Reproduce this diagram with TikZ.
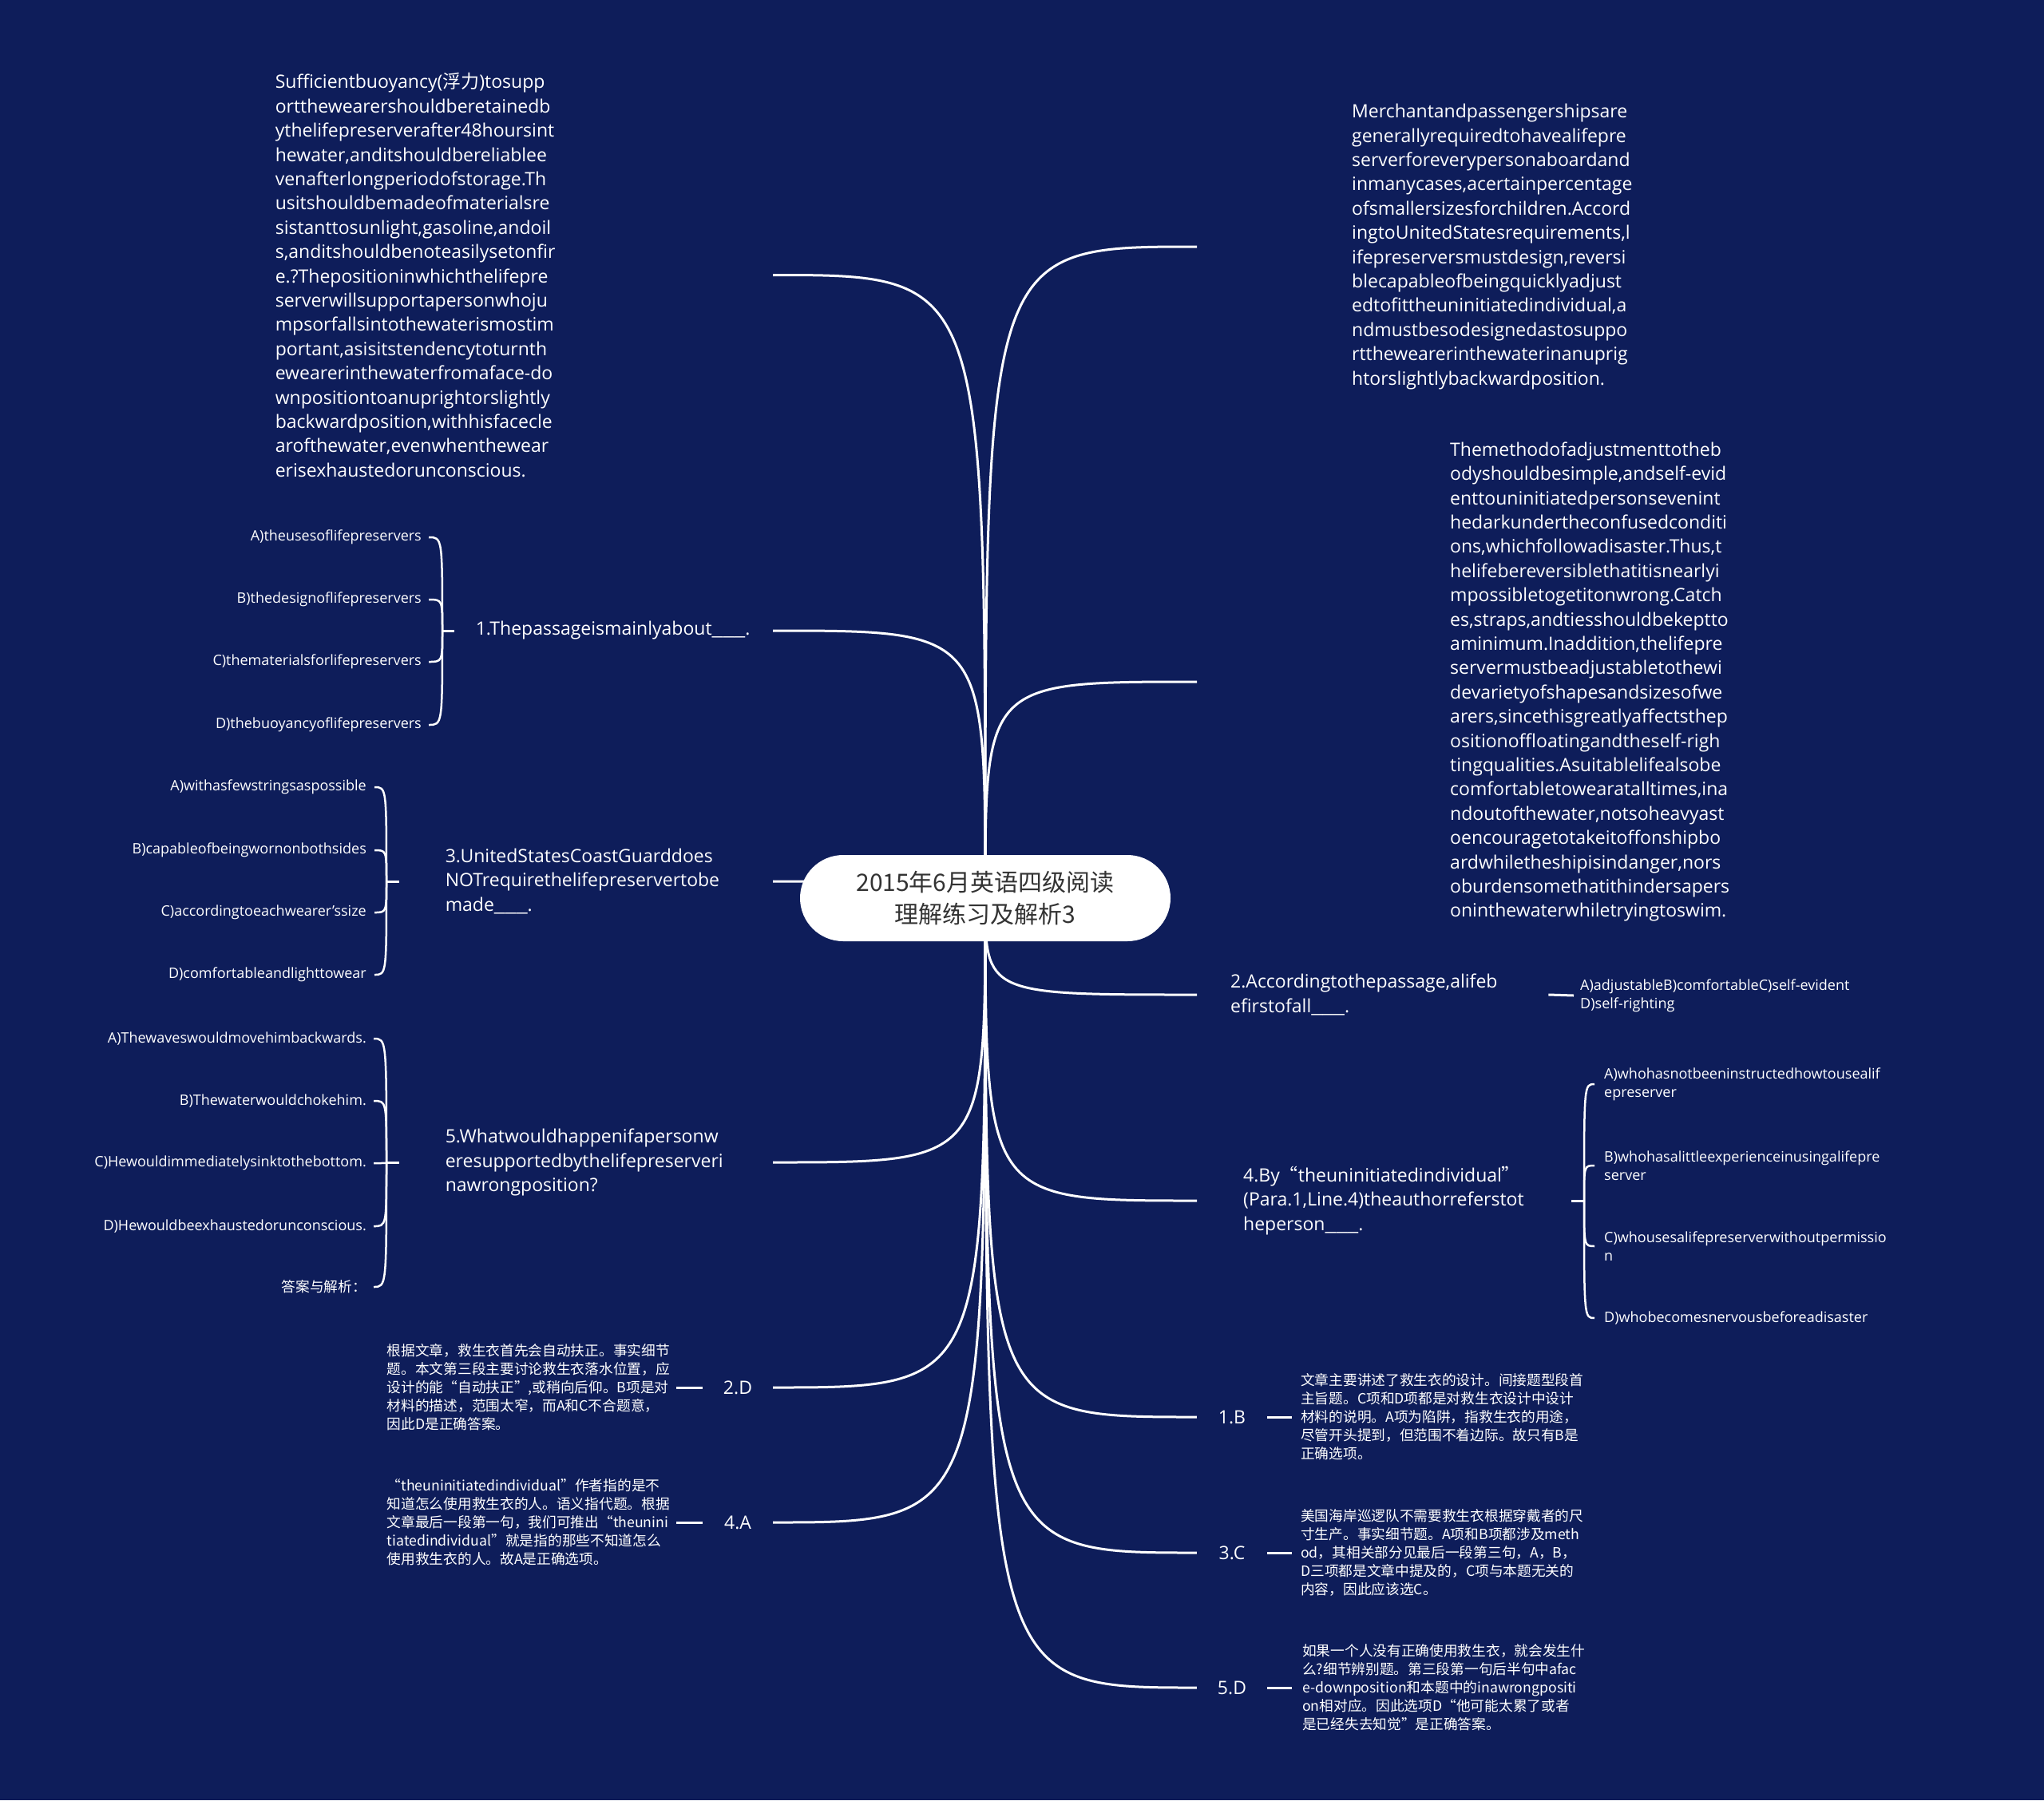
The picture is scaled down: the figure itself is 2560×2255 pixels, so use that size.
\documentclass[tikz,border=0pt]{standalone}
\usepackage{fontspec}
\usepackage{graphicx}
\setmainfont{Open Sans}
\newfontfamily\cjk{Noto Sans CJK SC}
\usetikzlibrary{calc}
\pgfdeclarelayer{bg}
\pgfsetlayers{bg,main}
\definecolor{bgc}{HTML}{0E1D5A}
\definecolor{ttl}{HTML}{333333}
\newcommand\bigf{\fontsize{23}{30.4}\selectfont}
\newcommand\smf{\fontsize{18}{23}\selectfont}
\newcommand\cnf{\cjk\fontsize{17.7}{23}\selectfont}
\newcommand\blank{\scalebox{1.35}[1]{\_\_\_}}
\hyphenpenalty=10000
\exhyphenpenalty=10000
\tikzset{
  conn/.style={draw=white, line width=3pt},
  bracel/.style={draw=white, line width=2.5pt},
  para/.style={text=white, font=\bigf, align=left, inner ysep=0pt},
  opt/.style={text=white, font=\smf, align=left, inner ysep=0pt, inner xsep=9pt},
  cn/.style={text=white, font=\cnf, align=left, inner ysep=0pt},
  lab/.style={text=white, font=\bigf, minimum width=88pt, inner sep=0pt},
  titlebox/.style={fill=white, rounded corners=54pt, minimum width=464pt, minimum height=108pt,
     text=ttl, font=\cjk\fontsize{30}{40}\selectfont, align=center, inner sep=0pt}
}
\begin{document}
\begin{tikzpicture}[x=1pt, y=-1pt]
\useasboundingbox (0,0) rectangle (2560,2255);
\begin{pgfonlayer}{bg}
\fill[bgc] (0,0) rectangle (2560,2255);
\end{pgfonlayer}

% central node
\node[titlebox] (c) at (1234,1125) {2015年6月英语四级阅读\\理解练习及解析3};

% ---------- left side ----------
\node[para, text width=596pt, inner xsep=27pt, anchor=east] (l1) at (968,344.5) {Sufficientbuoyancy({\cjk 浮力})tosupp\\
ortthewearershouldberetainedb\\
ythelifepreserverafter48hoursint\\
hewater,anditshouldbereliablee\\
venafterlongperiodofstorage.Th\\
usitshouldbemadeofmaterialsre\\
sistanttosunlight,gasoline,andoil\\
s,anditshouldbenoteasilysetonfir\\
e.?Thepositioninwhichthelifepre\\
serverwillsupportapersonwhoju\\
mpsorfallsintothewaterismostim\\
portant,asisitstendencytoturnth\\
ewearerinthewaterfromaface-do\\
wnpositiontoanuprightorslightly\\
backwardposition,withhisfacecle\\
arofthewater,evenwhenthewear\\
erisexhaustedorunconscious.};

\node[para, text width=345pt, inner xsep=27pt, anchor=east] (q1) at (968,790) {1.Thepassageismainlyabout\blank.};
\node[opt, anchor=east] (q1a) at (537,673) {A)theusesoflifepreservers};
\node[opt, anchor=east] (q1b) at (537,751) {B)thedesignoflifepreservers};
\node[opt, anchor=east] (q1c) at (537,829) {C)thematerialsforlifepreservers};
\node[opt, anchor=east] (q1d) at (537,908) {D)thebuoyancyoflifepreservers};
\coordinate (q1k) at (554,790);

\node[para, text width=352pt, inner xsep=58pt, anchor=east] (q3) at (968,1104) {3.UnitedStatesCoastGuarddoes\\NOTrequirethelifepreservertobe\\made\blank.};
\node[opt, anchor=east, inner xsep=10pt] (q3a) at (469,986) {A)withasfewstringsaspossible};
\node[opt, anchor=east, inner xsep=10pt] (q3b) at (469,1065) {B)capableofbeingwornonbothsides};
\node[opt, anchor=east, inner xsep=10pt] (q3c) at (469,1143) {C)accordingtoeachwearer's{}size};
\node[opt, anchor=east, inner xsep=10pt] (q3d) at (469,1221) {D)comfortableandlighttowear};
\coordinate (q3k) at (484,1104);

\node[para, text width=352pt, inner xsep=58pt, anchor=east] (q5) at (968,1456) {5.Whatwouldhappenifapersonw\\eresupportedbythelifepreserveri\\nawrongposition?};
\node[opt, anchor=east] (q5a) at (468,1301) {A)Thewaveswouldmovehimbackwards.};
\node[opt, anchor=east] (q5b) at (468,1379) {B)Thewaterwouldchokehim.};
\node[opt, anchor=east] (q5c) at (468,1457) {C)Hewouldimmediatelysinktothebottom.};
\node[opt, anchor=east] (q5d) at (468,1536) {D)Hewouldbeexhaustedorunconscious.};
\node[opt, anchor=east, font=\cjk\fontsize{17.7}{23}\selectfont] (q5e) at (468,1612) {答案与解析：};
\coordinate (q5k) at (484,1456);

\node[lab] (a2) at (924,1738) {2.D};
\node[cn, text width=355pt, inner xsep=7pt, anchor=east] (a2t) at (847,1738) {根据文章，救生衣首先会自动扶正。事实细节\\
题。本文第三段主要讨论救生衣落水位置，应\\
设计的能“自动扶正”,或稍向后仰。B项是对\\
材料的描述，范围太窄，而A和C不合题意，\\
因此D是正确答案。};

\node[lab] (a4) at (924,1907) {4.A};
\node[cn, text width=355pt, inner xsep=7pt, anchor=east] (a4t) at (847,1907) {“theuninitiatedindividual”作者指的是不\\
知道怎么使用救生衣的人。语义指代题。根据\\
文章最后一段第一句，我们可推出“theunini\\
tiatedindividual”就是指的那些不知道怎么\\
使用救生衣的人。故A是正确选项。};

% ---------- right side ----------
\node[para, text width=380pt, inner xsep=194pt, anchor=west] (r1) at (1499,309) {Merchantandpassengershipsare\\
generallyrequiredtohavealifepre\\
serverforeverypersonaboardand\\
inmanycases,acertainpercentage\\
ofsmallersizesforchildren.Accord\\
ingtoUnitedStatesrequirements,l\\
ifepreserversmustdesign,reversi\\
blecapableofbeingquicklyadjust\\
edtofittheuninitiatedindividual,a\\
ndmustbesodesignedastosuppo\\
rtthewearerinthewaterinanuprig\\
htorslightlybackwardposition.};

\node[para, text width=380pt, inner xsep=317pt, anchor=west] (r2) at (1499,854) {Themethodofadjustmenttotheb\\
odyshouldbesimple,andself-evid\\
enttouninitiatedpersonsevenint\\
hedarkundertheconfusedconditi\\
ons,whichfollowadisaster.Thus,t\\
helifebereversiblethatitisnearlyi\\
mpossibletogetitonwrong.Catch\\
es,straps,andtiesshouldbekeptto\\
aminimum.Inaddition,thelifepre\\
servermustbeadjustabletothewi\\
devarietyofshapesandsizesofwe\\
arers,sincethisgreatlyaffectsthep\\
ositionoffloatingandtheself-righ\\
tingqualities.Asuitablelifealsobe\\
comfortabletowearatalltimes,ina\\
ndoutofthewater,notsoheavyast\\
oencouragetotakeitoffonshipbo\\
ardwhiletheshipisindanger,nors\\
oburdensomethatithindersapers\\
oninthewaterwhiletryingtoswim.};

\node[para, text width=356pt, inner xsep=42pt, anchor=west] (r3) at (1499,1246) {2.Accordingtothepassage,alifeb\\efirstofall\blank.};
\node[opt, anchor=west, inner xsep=8pt] (r3o) at (1971,1247) {A)adjustableB)comfortableC)self-evident\\D)self-righting};

\node[para, text width=353pt, inner xsep=58pt, anchor=west] (r4) at (1499,1504) {4.By{\cjk “}theuninitiatedindividual{\cjk ”}\\(Para.1,Line.4)theauthorreferstot\\heperson\blank.};
\node[opt, anchor=west, inner xsep=12pt] (r4a) at (1997,1358) {A)whohasnotbeeninstructedhowtousealif\\epreserver};
\node[opt, anchor=west, inner xsep=12pt] (r4b) at (1997,1460) {B)whohasalittleexperienceinusingalifepre\\server};
\node[opt, anchor=west, inner xsep=12pt] (r4c) at (1997,1561) {C)whousesalifepreserverwithoutpermissio\\n};
\node[opt, anchor=west, inner xsep=12pt] (r4d) at (1997,1651) {D)whobecomesnervousbeforeadisaster};
\coordinate (r4k) at (1984,1504);

\node[lab] (b1) at (1543,1775) {1.B};
\node[cn, text width=360pt, inner xsep=11pt, anchor=west] (b1t) at (1618,1775) {文章主要讲述了救生衣的设计。间接题型段首\\
主旨题。C项和D项都是对救生衣设计中设计\\
材料的说明。A项为陷阱，指救生衣的用途，\\
尽管开头提到，但范围不着边际。故只有B是\\
正确选项。};

\node[lab] (b3) at (1543,1945) {3.C};
\node[cn, text width=360pt, inner xsep=11pt, anchor=west] (b3t) at (1618,1945) {美国海岸巡逻队不需要救生衣根据穿戴者的尺\\
寸生产。事实细节题。A项和B项都涉及meth\\
od，其相关部分见最后一段第三句，A，B，\\
D三项都是文章中提及的，C项与本题无关的\\
内容，因此应该选C。};

\node[lab] (b5) at (1543,2114) {5.D};
\node[cn, text width=360pt, inner xsep=13pt, anchor=west] (b5t) at (1618,2114) {如果一个人没有正确使用救生衣，就会发生什\\
么?细节辨别题。第三段第一句后半句中afac\\
e-downposition和本题中的inawrongpositi\\
on相对应。因此选项D“他可能太累了或者\\
是已经失去知觉”是正确答案。};

% ---------- connectors ----------
\begin{pgfonlayer}{bg}
\foreach \n/\a in {l1/east, q1/east, q3/east, q5/east, a2/east, a4/east,
                   r1/west, r2/west, r3/west, r4/west, b1/west, b3/west, b5/west}
  \draw[conn] (c.center) .. controls (c.center |- \n.\a) .. (\n.\a);
\end{pgfonlayer}

\draw[conn] (q1.west) -- (q1k);
\foreach \o in {q1a,q1b,q1c,q1d}
  \draw[bracel] (q1k) .. controls (q1k |- \o.east) .. (\o.east);
\draw[conn] (q3.west) -- (q3k);
\foreach \o in {q3a,q3b,q3c,q3d}
  \draw[bracel] (q3k) .. controls (q3k |- \o.east) .. (\o.east);
\draw[conn] (q5.west) -- (q5k);
\foreach \o in {q5a,q5b,q5c,q5d,q5e}
  \draw[bracel] (q5k) .. controls (q5k |- \o.east) .. (\o.east);

\draw[conn] (a2.west) -- (a2t.east);
\draw[conn] (a4.west) -- (a4t.east);

\draw[conn] (r3.east) -- (r3o.west);
\draw[conn] (r4.east) -- (r4k);
\foreach \o in {r4a,r4b,r4c,r4d}
  \draw[bracel] (r4k) .. controls (r4k |- \o.west) .. (\o.west);

\draw[conn] (b1.east) -- (b1t.west);
\draw[conn] (b3.east) -- (b3t.west);
\draw[conn] (b5.east) -- (b5t.west);
\end{tikzpicture}
\end{document}
